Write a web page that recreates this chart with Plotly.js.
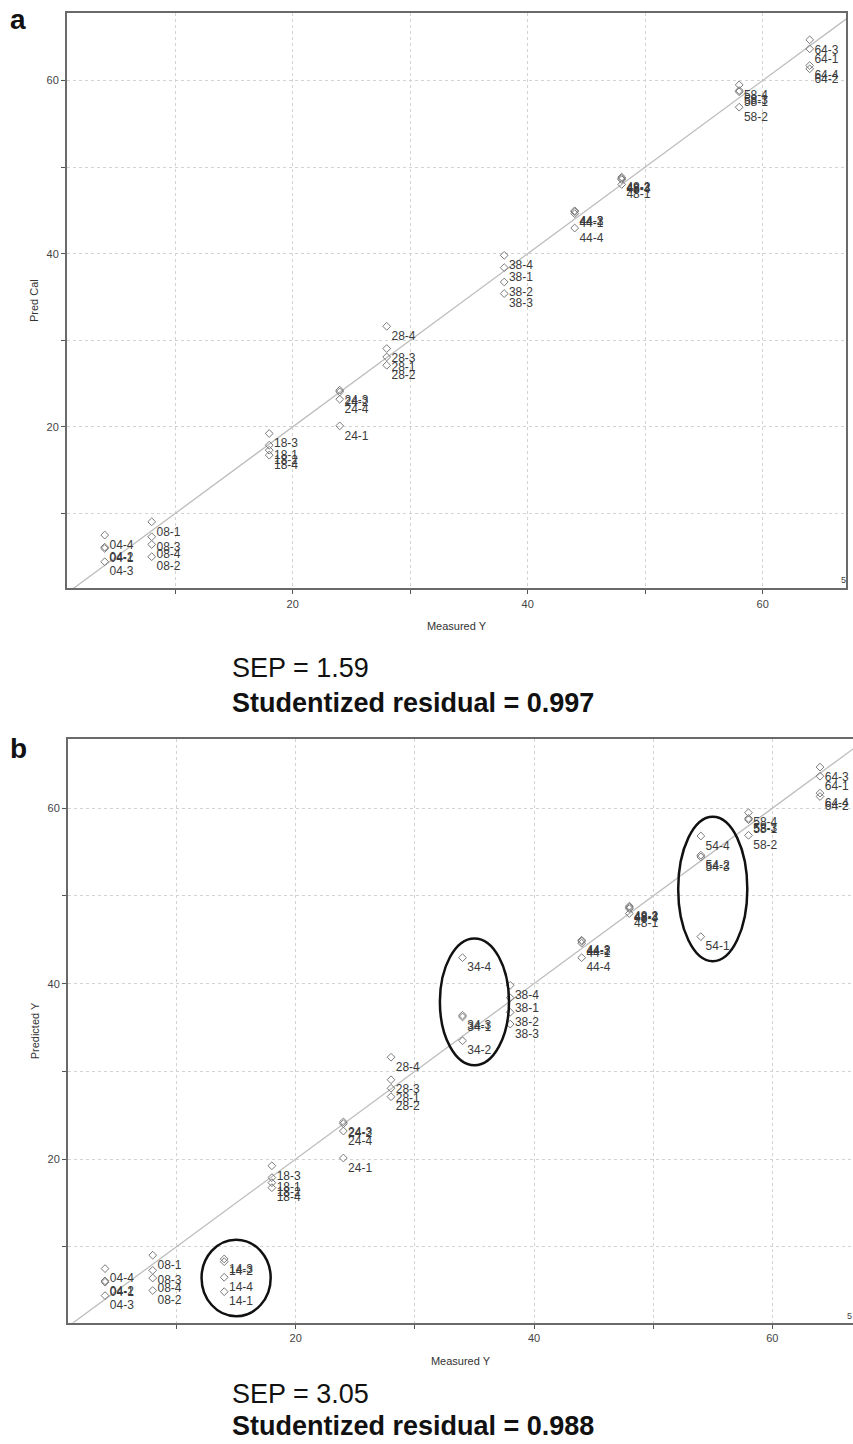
<!DOCTYPE html>
<html>
<head>
<meta charset="utf-8">
<script src="https://cdn.plot.ly/plotly-3.0.1.min.js"></script>
<style>
html,body{margin:0;padding:0;background:#fff;}
#chart{width:853px;height:1444px;}
</style>
</head>
<body>
<div id="chart"></div>
<script>
// ---- calibration samples (shown in both panels) ----
const calLabels = [
  '04-4','04-2','04-1','04-3',
  '08-1','08-3','08-4','08-2',
  '18-3','18-1','18-2','18-4',
  '24-3','24-2','24-4','24-1',
  '28-4','28-3','28-1','28-2',
  '38-4','38-1','38-2','38-3',
  '44-3','44-2','44-1','44-4',
  '48-2','48-3','48-4','48-1',
  '58-4','58-3','58-1','58-2',
  '64-3','64-1','64-4','64-2'
];
const calMeasured = [
  4,4,4,4, 8,8,8,8, 18,18,18,18, 24,24,24,24, 28,28,28,28,
  38,38,38,38, 44,44,44,44, 48,48,48,48, 58,58,58,58, 64,64,64,64
];
const calPredicted = [
  7.50,6.10,5.95,4.42,
  9.03,7.30,6.42,5.00,
  19.23,17.88,17.30,16.73,
  24.23,24.03,23.19,20.11,
  31.61,29.04,28.07,27.11,
  39.81,38.39,36.73,35.39,
  44.95,44.85,44.62,42.96,
  48.84,48.70,48.55,48.00,
  59.50,58.85,58.70,56.92,
  64.70,63.66,61.73,61.35
];

// ---- extra (prediction) samples, panel b only ----
const valLabels = ['14-3','14-2','14-4','14-1','34-4','34-3','34-1','34-2','54-4','54-2','54-3','54-1'];
const valMeasured = [14,14,14,14, 34,34,34,34, 54,54,54,54];
const valPredicted = [8.60,8.29,6.51,4.87, 42.96,36.40,36.20,33.49, 56.84,54.65,54.45,45.36];

const circledGroups = [14, 34, 54];
const identityLine = [0, 70];
const tickValues = [10, 20, 30, 40, 50, 60];
const tickLabels = ['', '20', '', '40', '', '60'];
const panelLetters = ['a', 'b'];
const statsA = ['SEP = 1.59', 'Studentized residual = 0.997'];
const statsB = ['SEP = 3.05', 'Studentized residual = 0.988'];
const cornerNote = '5';

// ---- styling ----
const FONT = 'Liberation Sans, Arial, Helvetica, sans-serif';
const W = 853, H = 1444;
const px = v => v / W;
const py = v => 1 - v / H;

function pointTrace(x, y, labels, xa, ya) {
  return {
    type: 'scatter', mode: 'markers+text',
    x: x, y: y, text: labels,
    xaxis: xa, yaxis: ya,
    textposition: 'bottom right',
    textfont: {family: FONT, size: 12, color: '#3a3a3a'},
    marker: {symbol: 'diamond-open', size: 6, color: '#7a7a7a', line: {width: 1, color: '#7a7a7a'}},
    cliponaxis: false,
    hoverinfo: 'x+y+text', showlegend: false
  };
}
function lineTrace(xa, ya) {
  return {
    type: 'scatter', mode: 'lines',
    x: identityLine, y: identityLine, xaxis: xa, yaxis: ya,
    line: {color: '#bdbdbd', width: 1.3},
    hoverinfo: 'skip', showlegend: false
  };
}

const data = [
  lineTrace('x', 'y'),
  pointTrace(calMeasured, calPredicted, calLabels, 'x', 'y'),
  lineTrace('x2', 'y2'),
  pointTrace(calMeasured, calPredicted, calLabels, 'x2', 'y2'),
  pointTrace(valMeasured, valPredicted, valLabels, 'x2', 'y2')
];

function axis(extra) {
  return Object.assign({
    tickmode: 'array', tickvals: tickValues, ticktext: tickLabels,
    ticks: 'outside', ticklen: 4, tickwidth: 1, tickcolor: '#555',
    tickfont: {family: FONT, size: 11, color: '#444'},
    showgrid: true, gridcolor: '#d2d2d2', griddash: 'dot', gridwidth: 1,
    showline: true, linecolor: '#6a6a6a', linewidth: 2,
    zeroline: false, fixedrange: true
  }, extra);
}

// ellipses around the prediction groups, derived from their points
const shapes = circledGroups.map(g => {
  const ys = valPredicted.filter((v, i) => valMeasured[i] === g);
  return {
    type: 'circle', xref: 'x2', yref: 'y2',
    x0: g - 1.9, x1: g + 3.9,
    y0: Math.min(...ys) - 2.8, y1: Math.max(...ys) + 2.2,
    line: {color: '#111', width: 2.5}
  };
});

const annotations = [
  {text: '<b>' + panelLetters[0] + '</b>', x: px(17.5), y: py(20), xref: 'paper', yref: 'paper',
   showarrow: false, xanchor: 'center', yanchor: 'middle', font: {family: FONT, size: 28, color: '#111'}},
  {text: '<b>' + panelLetters[1] + '</b>', x: px(18), y: py(748), xref: 'paper', yref: 'paper',
   showarrow: false, xanchor: 'center', yanchor: 'middle', font: {family: FONT, size: 28, color: '#111'}},
  {text: cornerNote, x: px(843), y: py(580), xref: 'paper', yref: 'paper',
   showarrow: false, xanchor: 'center', yanchor: 'middle', font: {family: FONT, size: 9, color: '#444'}},
  {text: cornerNote, x: px(849), y: py(1316), xref: 'paper', yref: 'paper',
   showarrow: false, xanchor: 'center', yanchor: 'middle', font: {family: FONT, size: 9, color: '#444'}},
  {text: statsA[0], x: px(230), y: py(668), xref: 'paper', yref: 'paper',
   showarrow: false, xanchor: 'left', yanchor: 'middle', font: {family: FONT, size: 27, color: '#111'}},
  {text: '<b>' + statsA[1] + '</b>', x: px(230), y: py(703), xref: 'paper', yref: 'paper',
   showarrow: false, xanchor: 'left', yanchor: 'middle', font: {family: FONT, size: 27, color: '#111'}},
  {text: statsB[0], x: px(230), y: py(1394), xref: 'paper', yref: 'paper',
   showarrow: false, xanchor: 'left', yanchor: 'middle', font: {family: FONT, size: 27, color: '#111'}},
  {text: '<b>' + statsB[1] + '</b>', x: px(230), y: py(1426), xref: 'paper', yref: 'paper',
   showarrow: false, xanchor: 'left', yanchor: 'middle', font: {family: FONT, size: 27, color: '#111'}}
];

const layout = {
  width: W, height: H,
  margin: {l: 0, r: 0, t: 0, b: 0},
  paper_bgcolor: '#fff', plot_bgcolor: '#fff',
  showlegend: false,
  font: {family: FONT},
  xaxis: axis({domain: [px(67), px(846)], range: [0.79, 67.09], anchor: 'y', mirror: true,
    title: {text: 'Measured Y', font: {family: FONT, size: 11, color: '#333'}, standoff: 14}}),
  yaxis: axis({domain: [py(588.3), py(13)], range: [1.35, 67.8], anchor: 'x', mirror: true,
    title: {text: 'Pred Cal', font: {family: FONT, size: 11, color: '#333'}, standoff: 6}}),
  xaxis2: axis({domain: [px(68), 1], range: [0.89, 66.77], anchor: 'y2', mirror: true,
    title: {text: 'Measured Y', font: {family: FONT, size: 11, color: '#333'}, standoff: 14}}),
  yaxis2: axis({domain: [py(1322.7), py(739.3)], range: [1.33, 67.87], anchor: 'x2', mirror: false,
    title: {text: 'Predicted Y', font: {family: FONT, size: 11, color: '#333'}, standoff: 6}}),
  shapes: shapes,
  annotations: annotations
};

Plotly.newPlot('chart', data, layout, {displayModeBar: false, staticPlot: true});
</script>
</body>
</html>
